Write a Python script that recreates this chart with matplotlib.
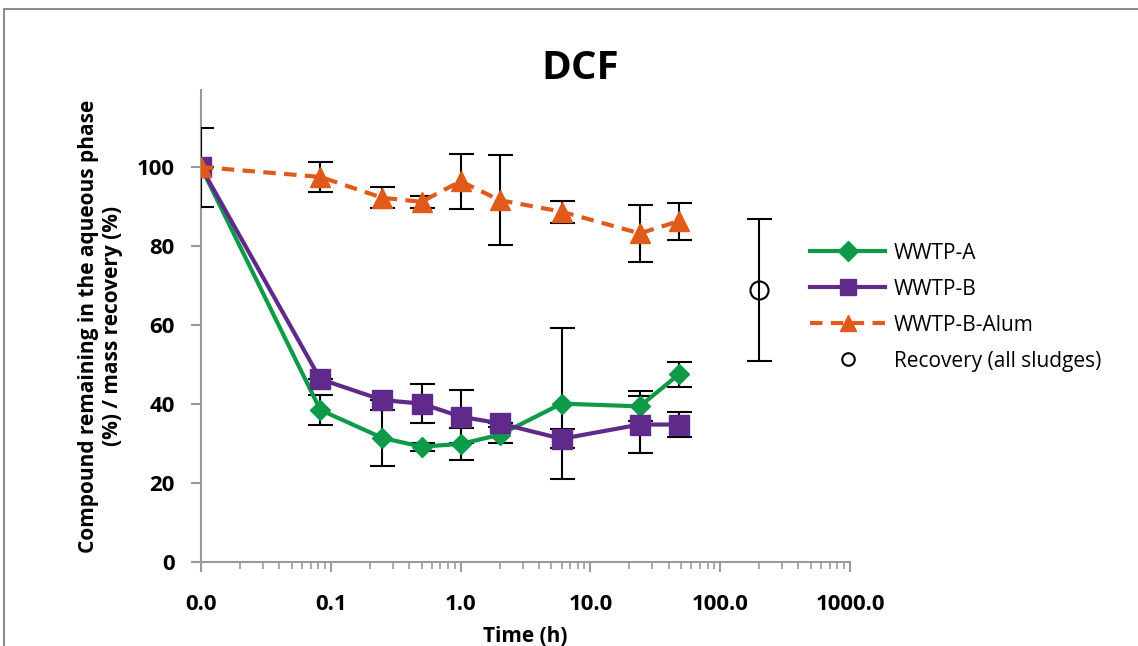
import numpy as np
import matplotlib.pyplot as plt
from matplotlib.lines import Line2D
from matplotlib.patches import Rectangle
from matplotlib.ticker import FixedLocator, LogLocator, NullFormatter

plt.rcParams['font.family'] = ['Open Sans', 'DejaVu Sans']

# time (h); t=0 is plotted at 0.01 on the log axis
t = [0.01, 0.083, 0.25, 0.5, 1, 2, 6, 24, 48]

wwtp_a = [100, 38.5, 31.4, 29.2, 29.9, 32.2, 40.1, 39.4, 47.5]
wwtp_a_err = [0, 3.9, 7.0, 1.0, 4.0, 2.0, 19.2, 3.8, 3.2]

wwtp_b = [100, 46.3, 41.0, 40.1, 36.8, 35.1, 31.2, 34.8, 34.8]
wwtp_b_err = [10.0, 0, 0, 4.9, 6.7, 0, 2.4, 7.3, 3.1]

wwtp_b_alum = [100, 97.5, 92.2, 91.2, 96.4, 91.6, 88.7, 83.2, 86.3]
wwtp_b_alum_err = [0, 3.8, 2.7, 1.5, 7.0, 11.4, 2.8, 7.3, 4.7]

rec_t = [200]
rec_val = [68.9]
rec_err = [17.9]

green = '#0E9A48'
purple = '#5F2A8A'
orange = '#E05A1A'

fig = plt.figure(figsize=(11.38, 6.46), dpi=100)
fig.patches.append(Rectangle((4 / 1138, -0.1), 1.2, 1 - 9 / 646 + 0.1,
                             transform=fig.transFigure, fill=False,
                             edgecolor='#8c8c8c', linewidth=1.5))
ax = fig.add_axes([201 / 1138, 1 - 562 / 646, (850 - 201) / 1138, (562 - 90) / 646])

eb = dict(ecolor='black', elinewidth=1.5, capsize=9, capthick=1.5)
dash = (0, (3, 2))
ax.errorbar(t, wwtp_a, yerr=wwtp_a_err, color=green, lw=3, marker='D', ms=10,
            zorder=3, **eb)
ax.errorbar(t, wwtp_b, yerr=wwtp_b_err, color=purple, lw=3, marker='s', ms=14,
            zorder=3, **eb)
ax.errorbar(t, wwtp_b_alum, yerr=wwtp_b_alum_err, color=orange, lw=3, ls=dash,
            marker='^', ms=14, zorder=3, **eb)
ax.errorbar(rec_t, rec_val, yerr=rec_err, color='black', ls='none', marker='o', ms=13,
            mfc='none', mew=1.5, zorder=3, **eb)

ax.set_xscale('log')
ax.set_xlim(0.01, 1000)
ax.set_ylim(0, 119.5)
ax.xaxis.set_major_locator(FixedLocator([0.01, 0.1, 1, 10, 100, 1000]))
ax.set_xticklabels(['0.0', '0.1', '1.0', '10.0', '100.0', '1000.0'])
ax.xaxis.set_minor_locator(LogLocator(base=10, subs=np.arange(2, 10)))
ax.xaxis.set_minor_formatter(NullFormatter())
ax.set_yticks([0, 20, 40, 60, 80, 100])

for s in ['top', 'right']:
    ax.spines[s].set_visible(False)
for s in ['left', 'bottom']:
    ax.spines[s].set_color('#9a9a9a')
    ax.spines[s].set_linewidth(1.5)
ax.tick_params(axis='both', which='major', color='#9a9a9a', width=1.5, length=7,
               labelsize=16)
ax.tick_params(axis='x', which='minor', color='#9a9a9a', width=1.2, length=5)
ax.tick_params(axis='x', which='major', pad=16)
ax.tick_params(axis='y', which='major', pad=12)
for lab in ax.get_xticklabels() + ax.get_yticklabels():
    lab.set_fontweight('bold')

ax.set_title('DCF', fontsize=29, fontweight='bold', pad=8, x=0.584)
ax.set_xlabel('Time (h)', fontsize=15, fontweight='bold', labelpad=8)
ax.set_ylabel('Compound remaining in the aqueous phase\n(%) / mass recovery (%)',
              fontsize=15, fontweight='bold', labelpad=10)

handles = [
    Line2D([], [], color=green, lw=3, marker='D', ms=10),
    Line2D([], [], color=purple, lw=3, marker='s', ms=12),
    Line2D([], [], color=orange, lw=3, ls=dash, marker='^', ms=12),
    Line2D([], [], color='black', ls='none', marker='o', ms=9, mfc='none', mew=1.5),
]
labels = ['WWTP-A', 'WWTP-B', 'WWTP-B-Alum', 'Recovery (all sludges)']
ax.legend(handles, labels, loc='center left', bbox_to_anchor=(0.91, 0.54),
          frameon=False, fontsize=15, handlelength=3.6, handletextpad=0.4,
          labelspacing=0.72)

fig.savefig('out.png', dpi=100)
